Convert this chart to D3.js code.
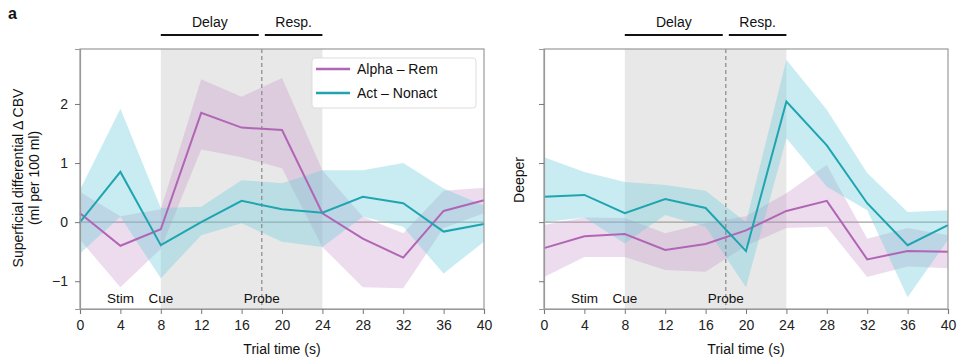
<!DOCTYPE html>
<html>
<head>
<meta charset="utf-8">
<script src="https://cdn.jsdelivr.net/npm/d3@7"></script>
<style>
  body { margin: 0; background: #fff; }
  svg { font-family: "Liberation Sans", Arial, Helvetica, sans-serif; }
</style>
</head>
<body>
<svg id="chart" width="958" height="360"></svg>
<script>
// Trial time points (s)
const times = [0, 4, 8, 12, 16, 20, 24, 28, 32, 36, 40];
const xTicks = [0, 4, 8, 12, 16, 20, 24, 28, 32, 36, 40];
const yTicks = [-1, 0, 1, 2];
const yTickLabels = ["\u22121", "0", "1", "2"];

// Superficial layer
const supAlphaMean  = [0.15, -0.40, -0.12, 1.85, 1.60, 1.56, 0.15, -0.28, -0.60, 0.19, 0.37];
const supAlphaUpper = [0.51, 0.10, 0.22, 2.42, 2.12, 2.44, 0.88, 0.09, -0.19, 0.53, 0.58];
const supAlphaLower = [-0.30, -1.10, -0.45, 1.23, 1.10, 0.91, -0.42, -1.10, -1.12, -0.10, 0.15];
const supActMean    = [0.00, 0.85, -0.39, 0.00, 0.36, 0.22, 0.16, 0.43, 0.32, -0.16, -0.03];
const supActUpper   = [0.55, 1.92, 0.24, 0.26, 0.71, 0.66, 0.88, 0.88, 1.00, 0.57, 0.28];
const supActLower   = [-0.53, 0.09, -0.95, -0.22, -0.02, -0.33, -0.42, 0.09, -0.08, -0.87, -0.33];

// Deeper layer
const deepAlphaMean  = [-0.44, -0.24, -0.20, -0.47, -0.37, -0.14, 0.19, 0.36, -0.63, -0.49, -0.50];
const deepAlphaUpper = [-0.05, 0.08, 0.07, -0.19, -0.02, 0.10, 0.49, 0.97, -0.28, -0.10, -0.22];
const deepAlphaLower = [-0.93, -0.59, -0.59, -0.81, -0.84, -0.40, -0.10, -0.08, -0.93, -0.75, -0.78];
const deepActMean    = [0.43, 0.46, 0.15, 0.39, 0.24, -0.49, 2.04, 1.30, 0.32, -0.39, -0.05];
const deepActUpper   = [1.10, 0.85, 0.68, 0.63, 0.53, 0.00, 2.75, 1.90, 0.83, 0.17, 0.20];
const deepActLower   = [0.00, 0.08, -0.36, 0.12, -0.08, -1.10, 1.42, 0.60, 0.20, -1.27, -0.30];

const seriesNames = ["Alpha \u2013 Rem", "Act \u2013 Nonact"];
const events = [{t: 4, label: "Stim"}, {t: 8, label: "Cue"}, {t: 18, label: "Probe"}];
const epochs = [{from: 8, to: 17.7, label: "Delay"}, {from: 18.3, to: 24, label: "Resp."}];

const purple = "#b066b5", purpleFill = "rgba(195,140,195,0.30)";
const teal = "#1ea5b0", tealFill = "rgba(110,205,218,0.38)";

const svg = d3.select("#chart");
const plotTop = 49, plotBottom = 309;

function panel(x0, x1, alpha, act, showLegend, showYLabels) {
  const x = d3.scaleLinear().domain([0, 40]).range([x0, x1]);
  const y = d3.scaleLinear().domain([-1.47, 2.93]).range([plotBottom, plotTop]);
  const g = svg.append("g");

  // task epoch shading
  g.append("rect").attr("x", x(8)).attr("y", plotTop)
    .attr("width", x(24) - x(8)).attr("height", plotBottom - plotTop)
    .attr("fill", "#e8e8e8");

  // zero line
  g.append("line").attr("x1", x(0)).attr("x2", x(40))
    .attr("y1", y(0)).attr("y2", y(0))
    .attr("stroke", "#a0a0a0").attr("stroke-width", 1.2);

  const area = d3.area().x((d, i) => x(times[i])).y0(d => y(d[0])).y1(d => y(d[1]));
  const line = d3.line().x((d, i) => x(times[i])).y(d => y(d));

  const bands = [
    {lo: alpha.lower, hi: alpha.upper, fill: purpleFill},
    {lo: act.lower, hi: act.upper, fill: tealFill}
  ];
  bands.forEach(b => {
    g.append("path").datum(b.lo.map((v, i) => [v, b.hi[i]]))
      .attr("d", area).attr("fill", b.fill);
  });

  // probe marker
  g.append("line").attr("x1", x(18)).attr("x2", x(18))
    .attr("y1", plotTop).attr("y2", plotBottom)
    .attr("stroke", "#888").attr("stroke-width", 1.2)
    .attr("stroke-dasharray", "4,3");

  g.append("path").datum(alpha.mean).attr("d", line)
    .attr("fill", "none").attr("stroke", purple).attr("stroke-width", 2);
  g.append("path").datum(act.mean).attr("d", line)
    .attr("fill", "none").attr("stroke", teal).attr("stroke-width", 2);

  // frame
  g.append("rect").attr("x", x0).attr("y", plotTop)
    .attr("width", x1 - x0).attr("height", plotBottom - plotTop)
    .attr("fill", "none").attr("stroke", "#999").attr("stroke-width", 1.2);

  // axes
  const xAxis = d3.axisBottom(x).tickValues(xTicks).tickSize(5).tickPadding(6);
  const gx = g.append("g").attr("transform", `translate(0,${plotBottom})`).call(xAxis);
  gx.select(".domain").attr("stroke", "#999").attr("stroke-width", 1.2);
  gx.selectAll(".tick line").attr("stroke", "#777");
  gx.selectAll("text").attr("font-size", 14).attr("fill", "#222");

  const yAxis = d3.axisLeft(y).tickValues(yTicks).tickSize(5).tickPadding(7)
    .tickFormat((d, i) => showYLabels ? yTickLabels[i] : "");
  const gy = g.append("g").attr("transform", `translate(${x0},0)`).call(yAxis);
  gy.select(".domain").attr("stroke", "#999").attr("stroke-width", 1.2);
  gy.selectAll(".tick line").attr("stroke", "#777");
  gy.selectAll("text").attr("font-size", 14).attr("fill", "#222");

  // event labels
  events.forEach(e => {
    g.append("text").attr("x", x(e.t)).attr("y", 303)
      .attr("text-anchor", "middle").attr("font-size", 13.5).attr("fill", "#111")
      .text(e.label);
  });

  // epoch brackets
  epochs.forEach(ep => {
    g.append("line").attr("x1", x(ep.from)).attr("x2", x(ep.to))
      .attr("y1", 35).attr("y2", 35).attr("stroke", "#111").attr("stroke-width", 2);
    g.append("text").attr("x", (x(ep.from) + x(ep.to)) / 2).attr("y", 27)
      .attr("text-anchor", "middle").attr("font-size", 14).attr("fill", "#111")
      .text(ep.label);
  });

  // x-axis title
  g.append("text").attr("x", (x0 + x1) / 2).attr("y", 354)
    .attr("text-anchor", "middle").attr("font-size", 14).attr("fill", "#111")
    .text("Trial time (s)");

  if (showLegend) {
    const lg = g.append("g");
    lg.append("rect").attr("x", 312).attr("y", 58).attr("width", 164).attr("height", 50)
      .attr("rx", 3).attr("fill", "rgba(255,255,255,0.92)").attr("stroke", "#ddd");
    [purple, teal].forEach((c, i) => {
      const yy = 69 + i * 24;
      lg.append("line").attr("x1", 316).attr("x2", 350).attr("y1", yy).attr("y2", yy)
        .attr("stroke", c).attr("stroke-width", 2.5);
      lg.append("text").attr("x", 357).attr("y", yy + 5).attr("font-size", 14)
        .attr("fill", "#111").text(seriesNames[i]);
    });
  }
}

panel(80, 484,
  {mean: supAlphaMean, upper: supAlphaUpper, lower: supAlphaLower},
  {mean: supActMean, upper: supActUpper, lower: supActLower}, true, true);
panel(544, 948,
  {mean: deepAlphaMean, upper: deepAlphaUpper, lower: deepAlphaLower},
  {mean: deepActMean, upper: deepActUpper, lower: deepActLower}, false, false);

// panel letter
svg.append("text").attr("x", 8).attr("y", 19).attr("font-size", 16)
  .attr("font-weight", "bold").attr("fill", "#111").text("a");

// y-axis titles
svg.append("text").attr("transform", "translate(23,178) rotate(-90)")
  .attr("text-anchor", "middle").attr("font-size", 14).attr("fill", "#111")
  .text("Superficial differential \u0394 CBV");
svg.append("text").attr("transform", "translate(39,178) rotate(-90)")
  .attr("text-anchor", "middle").attr("font-size", 14).attr("fill", "#111")
  .text("(ml per 100 ml)");
svg.append("text").attr("transform", "translate(524,180) rotate(-90)")
  .attr("text-anchor", "middle").attr("font-size", 14).attr("fill", "#111")
  .text("Deeper");
</script>
</body>
</html>
